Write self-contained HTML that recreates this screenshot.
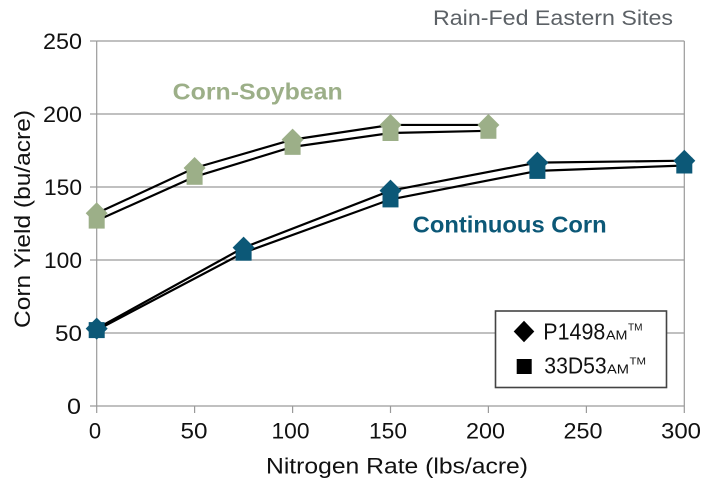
<!DOCTYPE html>
<html>
<head>
<meta charset="utf-8">
<style>
  html, body { margin: 0; padding: 0; background: #ffffff; }
  svg { display: block; }
  text { font-family: "Liberation Sans", sans-serif; }
</style>
</head>
<body>
<svg width="719" height="487" viewBox="0 0 719 487" xmlns="http://www.w3.org/2000/svg">
  <rect x="0" y="0" width="719" height="487" fill="#ffffff"/>

  <!-- Title -->
  <text x="433" y="25" font-size="21" fill="#5c6166" textLength="240" lengthAdjust="spacingAndGlyphs">Rain-Fed Eastern Sites</text>

  <!-- Gridlines -->
  <g stroke="#9a9a9a" stroke-width="1.2" fill="none">
    <line x1="96.7" y1="41" x2="684.3" y2="41"/>
    <line x1="96.7" y1="114" x2="684.3" y2="114"/>
    <line x1="96.7" y1="187" x2="684.3" y2="187"/>
    <line x1="96.7" y1="260" x2="684.3" y2="260"/>
    <line x1="96.7" y1="333" x2="684.3" y2="333"/>
    <!-- axes -->
    <line x1="96.7" y1="41" x2="96.7" y2="406"/>
    <line x1="684.3" y1="41" x2="684.3" y2="413"/>
    <line x1="90" y1="406" x2="684.3" y2="406"/>
    <!-- y ticks -->
    <line x1="90" y1="41" x2="96.7" y2="41"/>
    <line x1="90" y1="114" x2="96.7" y2="114"/>
    <line x1="90" y1="187" x2="96.7" y2="187"/>
    <line x1="90" y1="260" x2="96.7" y2="260"/>
    <line x1="90" y1="333" x2="96.7" y2="333"/>
    <!-- x ticks -->
    <line x1="96.7" y1="406" x2="96.7" y2="413"/>
    <line x1="194.6" y1="406" x2="194.6" y2="413"/>
    <line x1="292.6" y1="406" x2="292.6" y2="413"/>
    <line x1="390.5" y1="406" x2="390.5" y2="413"/>
    <line x1="488.4" y1="406" x2="488.4" y2="413"/>
    <line x1="586.4" y1="406" x2="586.4" y2="413"/>
  </g>

  <!-- Y tick labels -->
  <g font-size="22" fill="#111" text-anchor="end">
    <text x="82" y="49" textLength="39" lengthAdjust="spacingAndGlyphs">250</text>
    <text x="82" y="122" textLength="39" lengthAdjust="spacingAndGlyphs">200</text>
    <text x="82" y="195" textLength="38" lengthAdjust="spacingAndGlyphs">150</text>
    <text x="82" y="268" textLength="38" lengthAdjust="spacingAndGlyphs">100</text>
    <text x="82" y="341" textLength="27" lengthAdjust="spacingAndGlyphs">50</text>
    <text x="81" y="414" textLength="14" lengthAdjust="spacingAndGlyphs">0</text>
  </g>

  <!-- X tick labels -->
  <g font-size="22" fill="#111" text-anchor="middle">
    <text x="95" y="438.5">0</text>
    <text x="194" y="438.5" textLength="27" lengthAdjust="spacingAndGlyphs">50</text>
    <text x="290.5" y="438.5" textLength="38" lengthAdjust="spacingAndGlyphs">100</text>
    <text x="388" y="438.5" textLength="38" lengthAdjust="spacingAndGlyphs">150</text>
    <text x="485.5" y="438.5" textLength="39" lengthAdjust="spacingAndGlyphs">200</text>
    <text x="583" y="438.5" textLength="39" lengthAdjust="spacingAndGlyphs">250</text>
    <text x="681" y="438.5" textLength="40" lengthAdjust="spacingAndGlyphs">300</text>
  </g>

  <!-- Axis titles -->
  <text x="266" y="473.3" font-size="22" fill="#111" textLength="262" lengthAdjust="spacingAndGlyphs">Nitrogen Rate (lbs/acre)</text>
  <text transform="translate(30,328) rotate(-90)" x="0" y="0" font-size="22" fill="#111" textLength="218" lengthAdjust="spacingAndGlyphs">Corn Yield (bu/acre)</text>

  <!-- Series lines -->
  <g stroke="#000" stroke-width="2.2" fill="none" stroke-linejoin="round">
    <polyline points="96.7,213.3 194.6,168.0 292.6,139.6 390.5,124.95 488.4,124.95"/>
    <polyline points="96.7,220.6 194.6,176.8 292.6,146.85 390.5,133.0 488.4,130.8"/>
    <polyline points="96.7,328.6 243.6,247.6 390.5,190.65 537.4,162.6 684.3,160.7"/>
    <polyline points="96.7,330.1 243.6,252.7 390.5,199.4 537.4,170.9 684.3,165.5"/>
  </g>

  <!-- Corn-Soybean markers (sage) -->
  <g fill="#9caf88">
    <rect x="88.7" y="212.6" width="16" height="16"/>
    <rect x="186.6" y="168.8" width="16" height="16"/>
    <rect x="284.6" y="138.85" width="16" height="16"/>
    <rect x="382.5" y="125" width="16" height="16"/>
    <rect x="480.4" y="122.8" width="16" height="16"/>
    <path d="M96.7,202.3 L107.7,213.3 L96.7,224.3 L85.7,213.3 Z"/>
    <path d="M194.6,157 L205.6,168 L194.6,179 L183.6,168 Z"/>
    <path d="M292.6,128.6 L303.6,139.6 L292.6,150.6 L281.6,139.6 Z"/>
    <path d="M390.5,113.95 L401.5,124.95 L390.5,135.95 L379.5,124.95 Z"/>
    <path d="M488.4,113.95 L499.4,124.95 L488.4,135.95 L477.4,124.95 Z"/>
  </g>

  <!-- Continuous Corn markers (teal) -->
  <g fill="#0c5877">
    <rect x="88.7" y="322.1" width="16" height="16"/>
    <rect x="235.6" y="244.7" width="16" height="16"/>
    <rect x="382.5" y="191.4" width="16" height="16"/>
    <rect x="529.4" y="162.9" width="16" height="16"/>
    <rect x="676.3" y="157.5" width="16" height="16"/>
    <path d="M96.7,317.6 L107.7,328.6 L96.7,339.6 L85.7,328.6 Z"/>
    <path d="M243.6,236.6 L254.6,247.6 L243.6,258.6 L232.6,247.6 Z"/>
    <path d="M390.5,179.65 L401.5,190.65 L390.5,201.65 L379.5,190.65 Z"/>
    <path d="M537.4,151.6 L548.4,162.6 L537.4,173.6 L526.4,162.6 Z"/>
    <path d="M684.3,149.7 L695.3,160.7 L684.3,171.7 L673.3,160.7 Z"/>
  </g>

  <!-- Series labels -->
  <text x="172.7" y="99.3" font-size="23" font-weight="bold" fill="#9caf88" textLength="170" lengthAdjust="spacingAndGlyphs">Corn-Soybean</text>
  <text x="412.7" y="232.7" font-size="23" font-weight="bold" fill="#0c5877" textLength="194" lengthAdjust="spacingAndGlyphs">Continuous Corn</text>

  <!-- Legend -->
  <rect x="495.5" y="311" width="171" height="76.5" fill="#ffffff" stroke="#444" stroke-width="1.6"/>
  <path d="M524,320.7 L534.3,331.5 L524,342.3 L513.7,331.5 Z" fill="#000"/>
  <rect x="516.7" y="359" width="15" height="15" fill="#000"/>
  <text x="543.3" y="339.3" font-size="23" fill="#111" textLength="62" lengthAdjust="spacingAndGlyphs">P1498</text>
  <text x="606" y="339.3" font-size="13" fill="#111" textLength="21.5" lengthAdjust="spacingAndGlyphs">AM</text>
  <text x="628" y="330.5" font-size="10" fill="#111" textLength="14.5" lengthAdjust="spacingAndGlyphs">TM</text>
  <text x="544.3" y="373.3" font-size="23" fill="#111" textLength="62.4" lengthAdjust="spacingAndGlyphs">33D53</text>
  <text x="607" y="373.3" font-size="13" fill="#111" textLength="22" lengthAdjust="spacingAndGlyphs">AM</text>
  <text x="629.5" y="364.5" font-size="10" fill="#111" textLength="16.5" lengthAdjust="spacingAndGlyphs">TM</text>
</svg>
</body>
</html>
